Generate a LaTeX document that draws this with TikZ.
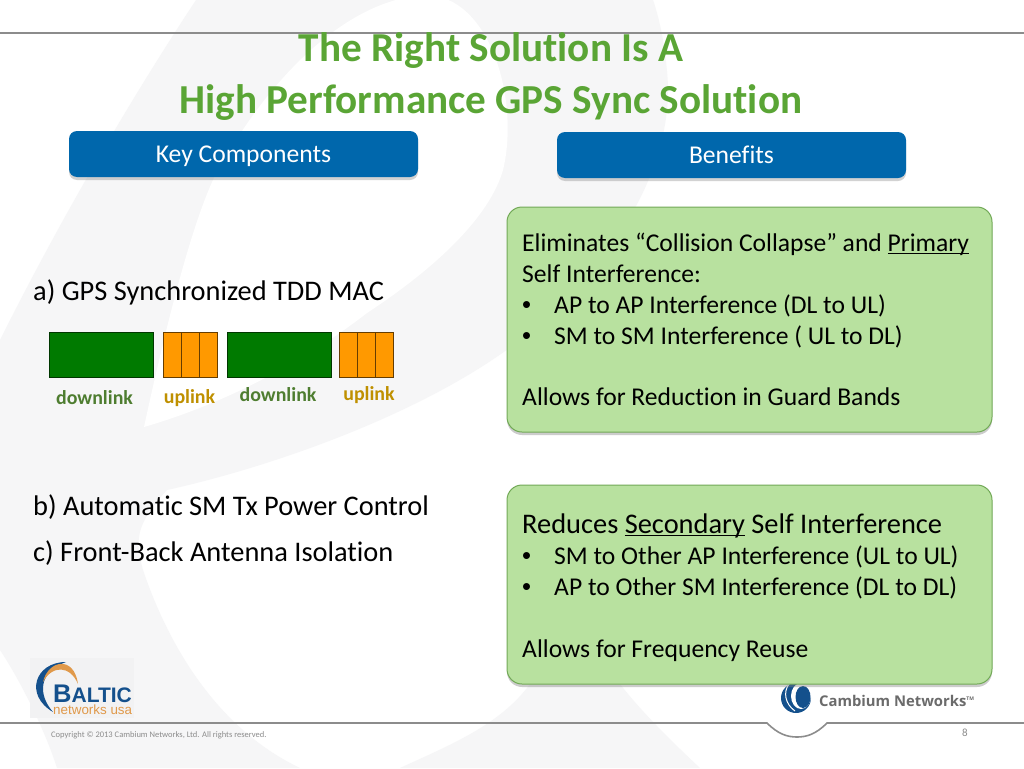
\documentclass[tikz,border=0pt]{standalone}
\usepackage{fontspec}
\setmainfont[Ligatures=NoCommon]{Carlito}
\newfontfamily\logofont{Liberation Sans}
\newfontfamily\cambfont{Open Sans}
\usetikzlibrary{positioning,shadows}
\definecolor{swirl}{HTML}{F6F6F7}
\definecolor{logopatch}{HTML}{F2F2F3}
\definecolor{rulegray}{HTML}{8C8C8C}
\definecolor{titlegreen}{HTML}{5AA535}
\definecolor{keyblue}{HTML}{0067AC}
\definecolor{boxgreen}{HTML}{B8E19F}
\definecolor{boxedge}{HTML}{72A957}
\definecolor{dlgreen}{HTML}{007A00}
\definecolor{ulorange}{HTML}{FF9900}
\definecolor{dltext}{HTML}{4E7D30}
\definecolor{ultext}{HTML}{BF9000}
\definecolor{logoblue}{HTML}{14508C}
\definecolor{logoorange}{HTML}{E0994A}
\newcommand{\lineunder}[1]{\underline{\smash{#1}}}
\newcommand{\itemdot}{\makebox[32pt][l]{{\logofont •}}}
\begin{document}
\begin{tikzpicture}[x=1pt,y=-1pt]
            \tikzstyle{keybox}=[fill=keyblue, rounded corners=8pt, minimum width=349pt, minimum height=46pt, text=white,
                text height=17.5pt, text depth=0pt, font=\fontsize{25.6}{31}\selectfont,
                drop shadow={shadow xshift=0pt, shadow yshift=-3pt, opacity=0.35}];
            \tikzstyle{greenbox}=[fill=boxgreen, draw=boxedge, line width=1pt, rounded corners=15pt, minimum width=485pt,
                drop shadow={shadow xshift=0pt, shadow yshift=-3pt, opacity=0.4}];
            \tikzstyle{boxtext}=[anchor=north west, inner sep=0pt, align=left, font=\fontsize{25.6}{30.8}\selectfont];
            \tikzstyle{itemtext}=[anchor=base west, inner sep=0pt, font=\fontsize{28.4}{34}\selectfont];
            \tikzstyle{dlblock}=[draw=black!55!dlgreen, fill=dlgreen, line width=1pt, inner sep=0pt, outer sep=0pt, minimum width=104pt, minimum height=45pt];
            \tikzstyle{ulblock}=[draw=black!60!ulorange, fill=ulorange, line width=1pt, inner sep=0pt, outer sep=0pt, minimum width=18pt, minimum height=45pt];
            \tikzstyle{dllabel}=[text=dltext, font=\fontsize{19.9}{24}\selectfont\bfseries, inner sep=0pt];
            \tikzstyle{ullabel}=[text=ultext, font=\fontsize{19.9}{24}\selectfont\bfseries, inner sep=0pt];
            \useasboundingbox (0,0) rectangle (1024,768);
            % background swirl
            \fill[white] (0,0) rectangle (1024,768);
            \fill[swirl] (196,0) .. controls (130,100) and (60,220) .. (0,340) -- (0,650)
                .. controls (20,680) and (45,730) .. (57,768) -- (300,768)
                .. controls (220,730) and (170,650) .. (143,570)
                .. controls (135,540) and (135,525) .. (167,490)
                .. controls (280,465) and (430,410) .. (520,340)
                .. controls (590,285) and (670,190) .. (668,85)
                .. controls (666,50) and (660,20) .. (653,0) -- cycle;
            \fill[white] (144,427) .. controls (165,330) and (190,230) .. (213,180)
                .. controls (260,90) and (340,0) .. (425,-5)
                .. controls (490,-5) and (520,100) .. (503,170)
                .. controls (490,215) and (440,265) .. (367,313)
                .. controls (300,365) and (220,405) .. (144,427) -- cycle;
            \fill[swirl] (400,768) .. controls (450,745) and (500,725) .. (530,684)
                -- (620,684) .. controls (640,710) and (670,740) .. (700,768) -- cycle;
            % rules
            \draw[rulegray, line width=2pt] (0,33) -- (1024,33);
            \draw[rulegray, line width=1.6pt] (0,723) -- (767,723) .. controls (778,734) and (787,737) .. (797,737)
                .. controls (807,737) and (816,734) .. (827,723) -- (1024,723);
            % title and headers
            \node[text=titlegreen, align=center, font=\fontsize{41.2}{52}\selectfont\bfseries] (title) at (491,77)
                {The Right Solution Is A\\High Performance GPS Sync Solution};
            \node[keybox] (key) at (243.5,154) {Key Components};
            \node[keybox] (benefits) at (731.5,155) {Benefits};
            % left column
            \node[itemtext] (itema) at (33,300) {a) GPS Synchronized TDD MAC};
            \node[dlblock] (dlone) at (101.5,354.5) {};
            \node[ulblock, right=9.5pt of dlone] (ulonea) {};
            \node[ulblock, right=0pt of ulonea] (uloneb) {};
            \node[ulblock, right=0pt of uloneb] (ulonec) {};
            \node[dlblock, right=10pt of ulonec] (dltwo) {};
            \node[ulblock, right=8.5pt of dltwo] (ultwoa) {};
            \node[ulblock, right=0pt of ultwoa] (ultwob) {};
            \node[ulblock, right=0pt of ultwob] (ultwoc) {};
            \node[dllabel] (dlonetext) at (94.5,398) {downlink};
            \node[ullabel] (ulonetext) at (189.5,398) {uplink};
            \node[dllabel] (dltwotext) at (278,395) {downlink};
            \node[ullabel] (ultwotext) at (369,395) {uplink};
            \node[itemtext] (itemb) at (33,515) {b) Automatic SM Tx Power Control};
            \node[itemtext] (itemc) at (33,561) {c) Front-Back Antenna Isolation};
            % logos
            \fill[logopatch] (30,658) rectangle (134,718);
            \fill[logoblue] (66,662) .. controls (35,662) and (24,695) .. (53,712)
                .. controls (38,695) and (38,672) .. (66,662) -- cycle;
            \fill[logoorange] (43,682) .. controls (48,660) and (74,655) .. (78,684)
                .. controls (70,665) and (52,665) .. (43,682) -- cycle;
            \node[text=logoblue, anchor=base west, inner sep=0pt, font=\logofont\bfseries\fontsize{16}{16}\selectfont] (balticname) at (53,702)
                {\fontsize{25.5}{24}\selectfont B\fontsize{21}{24}\selectfont ALTIC};
            \node[text=logoorange, anchor=base west, inner sep=0pt, font=\logofont\fontsize{13.4}{14}\selectfont] (balticsub) at (53,714) {networks usa};
            \fill[logoblue] (796,698) circle (15pt);
            \fill[white] (801,696) ellipse (10pt and 13pt);
            \fill[logoblue] (803,697) ellipse (7.5pt and 11pt);
            \draw[white, line width=1pt] (789,684) .. controls (783,692) and (785,704) .. (795,711);
            \node[text=black!58, anchor=base west, inner sep=0pt, font=\cambfont\bfseries\fontsize{14.8}{18}\selectfont] (cambium) at (819,706)
                {Cambium Networks\raisebox{6pt}{\fontsize{5}{6}\selectfont TM}};
            % right column
            \node[greenbox, minimum height=225pt] (primary) at (749.5,319.5) {};
            \node[boxtext] (primarytext) at (522,233)
                {Eliminates “Collision Collapse” and \lineunder{Primary}\\
                 Self Interference:\\
                 \itemdot AP to AP Interference (DL to UL)\\
                 \itemdot SM to SM Interference ( UL to DL)\\[30.8pt]
                 Allows for Reduction in Guard Bands};
            \node[greenbox, minimum height=199pt] (secondary) at (749.5,584.5) {};
            \node[boxtext] (secondarytext) at (522,514)
                {{\fontsize{28.4}{30.8}\selectfont Reduces \lineunder{Secondary} Self Interference}\\
                 \itemdot SM to Other AP Interference (UL to UL)\\
                 \itemdot AP to Other SM Interference (DL to DL)\\[30.8pt]
                 Allows for Frequency Reuse};
            % footer
            \node[text=black!45, anchor=base west, inner sep=0pt, font=\fontsize{8.5}{11}\selectfont] (copyright) at (51,737)
                {Copyright © 2013 Cambium Networks, Ltd. All rights reserved.};
            \node[text=black!45, inner sep=0pt, font=\fontsize{11}{13}\selectfont] (pagenum) at (965,733) {8};
        \end{tikzpicture}
\end{document}
